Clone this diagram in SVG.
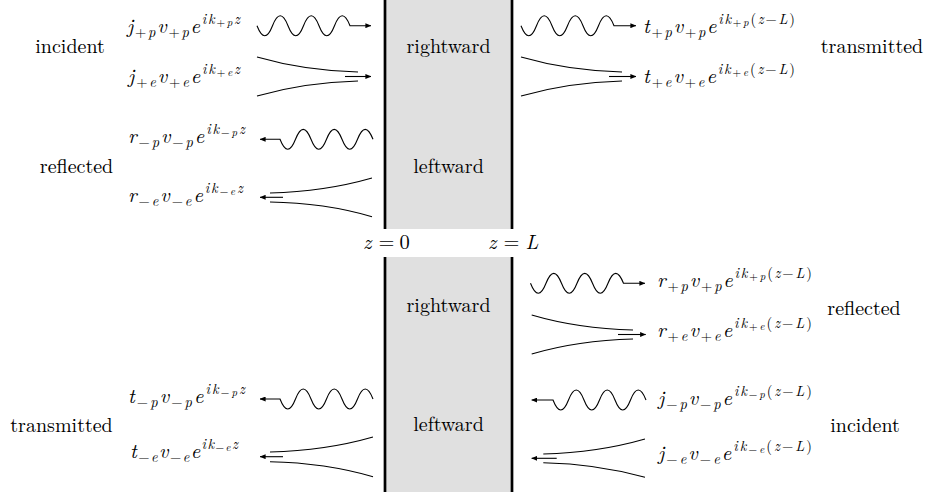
<svg xmlns="http://www.w3.org/2000/svg" width="928" height="492" viewBox="0 0 928 492" font-family="Latin Modern Roman, Liberation Serif, serif">
<defs>
<style>
text{font-size:20px;fill:#000}
.m{font-style:italic;font-size:20.5px}
.s{font-size:14.5px}
.ss{font-size:11px}
.u{font-style:normal}
.panel{fill:#e0e0e0;stroke:none}
.wall{stroke:#000;stroke-width:2.7;fill:none}
.c{fill:none;stroke:#000;stroke-width:1.1}
.a{fill:none;stroke:#000;stroke-width:1.1;marker-end:url(#ah)}
</style>
<marker id="ah" viewBox="0 0 6 5" refX="5.6" refY="2.5" markerWidth="6" markerHeight="5" markerUnits="userSpaceOnUse" orient="auto"><path d="M0,0 L6,2.5 L0,5 Z" fill="#000"/></marker>
</defs>
<rect width="928" height="492" fill="#fff"/>

<g id="slab-top">
<rect class="panel" x="385" y="-2" width="127" height="231"/>
<line class="wall" x1="385" y1="-2" x2="385" y2="229"/>
<line class="wall" x1="512" y1="-2" x2="512" y2="229"/>
<text x="448.5" y="53" text-anchor="middle">rightward</text>
<text x="448.5" y="173" text-anchor="middle">leftward</text>
</g>
<g id="slab-bottom">
<rect class="panel" x="385" y="257" width="127" height="237"/>
<line class="wall" x1="385" y1="257" x2="385" y2="494"/>
<line class="wall" x1="512" y1="257" x2="512" y2="494"/>
<text x="448.5" y="312" text-anchor="middle">rightward</text>
<text x="448.5" y="431" text-anchor="middle">leftward</text>
</g>
<g id="z-labels">
<text class="m" x="363" y="249">z<tspan class="u" x="378.5">=</tspan><tspan class="u" x="399.5">0</tspan></text>
<text class="m" x="488" y="249">z<tspan class="u" x="503.5">=</tspan><tspan x="525.5">L</tspan></text>
</g>

<g id="labels">
<text x="70" y="53" text-anchor="middle">incident</text>
<text x="76.5" y="173" text-anchor="middle">reflected</text>
<text x="872" y="53" text-anchor="middle">transmitted</text>
<text x="864" y="315" text-anchor="middle">reflected</text>
<text x="865" y="431.7" text-anchor="middle">incident</text>
<text x="61.5" y="431.7" text-anchor="middle">transmitted</text>
</g>

<g id="formula-jp"><text class="m" x="127" y="33.3" textLength="113" lengthAdjust="spacing">j<tspan class="s" baseline-shift="-4"><tspan class="u">+</tspan>p</tspan>v<tspan class="s" baseline-shift="-4"><tspan class="u">+</tspan>p</tspan>e<tspan class="s" baseline-shift="9.5">ik</tspan><tspan class="ss" baseline-shift="7"><tspan class="u">+</tspan>p</tspan><tspan class="s" baseline-shift="9.5">z</tspan></text></g>
<g id="formula-je"><text class="m" x="128" y="83.3" textLength="112" lengthAdjust="spacing">j<tspan class="s" baseline-shift="-4"><tspan class="u">+</tspan>e</tspan>v<tspan class="s" baseline-shift="-4"><tspan class="u">+</tspan>e</tspan>e<tspan class="s" baseline-shift="9.5">ik</tspan><tspan class="ss" baseline-shift="7"><tspan class="u">+</tspan>e</tspan><tspan class="s" baseline-shift="9.5">z</tspan></text></g>
<g id="formula-rmp"><text class="m" x="128" y="143.3" textLength="117" lengthAdjust="spacing">r<tspan class="s" baseline-shift="-4"><tspan class="u">−</tspan>p</tspan>v<tspan class="s" baseline-shift="-4"><tspan class="u">−</tspan>p</tspan>e<tspan class="s" baseline-shift="9.5">ik</tspan><tspan class="ss" baseline-shift="7"><tspan class="u">−</tspan>p</tspan><tspan class="s" baseline-shift="9.5">z</tspan></text></g>
<g id="formula-rme"><text class="m" x="128" y="201.7" textLength="115" lengthAdjust="spacing">r<tspan class="s" baseline-shift="-4"><tspan class="u">−</tspan>e</tspan>v<tspan class="s" baseline-shift="-4"><tspan class="u">−</tspan>e</tspan>e<tspan class="s" baseline-shift="9.5">ik</tspan><tspan class="ss" baseline-shift="7"><tspan class="u">−</tspan>e</tspan><tspan class="s" baseline-shift="9.5">z</tspan></text></g>
<g id="formula-tpp"><text class="m" x="643" y="33.3" textLength="152" lengthAdjust="spacing">t<tspan class="s" baseline-shift="-4"><tspan class="u">+</tspan>p</tspan>v<tspan class="s" baseline-shift="-4"><tspan class="u">+</tspan>p</tspan>e<tspan class="s" baseline-shift="9.5">ik</tspan><tspan class="ss" baseline-shift="7"><tspan class="u">+</tspan>p</tspan><tspan class="s" baseline-shift="9.5"><tspan class="u">(</tspan>z<tspan class="u">−</tspan>L<tspan class="u">)</tspan></tspan></text></g>
<g id="formula-tpe"><text class="m" x="643" y="83.3" textLength="152" lengthAdjust="spacing">t<tspan class="s" baseline-shift="-4"><tspan class="u">+</tspan>e</tspan>v<tspan class="s" baseline-shift="-4"><tspan class="u">+</tspan>e</tspan>e<tspan class="s" baseline-shift="9.5">ik</tspan><tspan class="ss" baseline-shift="7"><tspan class="u">+</tspan>e</tspan><tspan class="s" baseline-shift="9.5"><tspan class="u">(</tspan>z<tspan class="u">−</tspan>L<tspan class="u">)</tspan></tspan></text></g>
<g id="formula-rpp"><text class="m" x="657" y="287.3" textLength="155" lengthAdjust="spacing">r<tspan class="s" baseline-shift="-4"><tspan class="u">+</tspan>p</tspan>v<tspan class="s" baseline-shift="-4"><tspan class="u">+</tspan>p</tspan>e<tspan class="s" baseline-shift="9.5">ik</tspan><tspan class="ss" baseline-shift="7"><tspan class="u">+</tspan>p</tspan><tspan class="s" baseline-shift="9.5"><tspan class="u">(</tspan>z<tspan class="u">−</tspan>L<tspan class="u">)</tspan></tspan></text></g>
<g id="formula-rpe"><text class="m" x="657" y="337" textLength="155" lengthAdjust="spacing">r<tspan class="s" baseline-shift="-4"><tspan class="u">+</tspan>e</tspan>v<tspan class="s" baseline-shift="-4"><tspan class="u">+</tspan>e</tspan>e<tspan class="s" baseline-shift="9.5">ik</tspan><tspan class="ss" baseline-shift="7"><tspan class="u">+</tspan>e</tspan><tspan class="s" baseline-shift="9.5"><tspan class="u">(</tspan>z<tspan class="u">−</tspan>L<tspan class="u">)</tspan></tspan></text></g>
<g id="formula-jmp"><text class="m" x="658" y="405" textLength="154" lengthAdjust="spacing">j<tspan class="s" baseline-shift="-4"><tspan class="u">−</tspan>p</tspan>v<tspan class="s" baseline-shift="-4"><tspan class="u">−</tspan>p</tspan>e<tspan class="s" baseline-shift="9.5">ik</tspan><tspan class="ss" baseline-shift="7"><tspan class="u">−</tspan>p</tspan><tspan class="s" baseline-shift="9.5"><tspan class="u">(</tspan>z<tspan class="u">−</tspan>L<tspan class="u">)</tspan></tspan></text></g>
<g id="formula-jme"><text class="m" x="658" y="460" textLength="154" lengthAdjust="spacing">j<tspan class="s" baseline-shift="-4"><tspan class="u">−</tspan>e</tspan>v<tspan class="s" baseline-shift="-4"><tspan class="u">−</tspan>e</tspan>e<tspan class="s" baseline-shift="9.5">ik</tspan><tspan class="ss" baseline-shift="7"><tspan class="u">−</tspan>e</tspan><tspan class="s" baseline-shift="9.5"><tspan class="u">(</tspan>z<tspan class="u">−</tspan>L<tspan class="u">)</tspan></tspan></text></g>
<g id="formula-tmp"><text class="m" x="128" y="403.3" textLength="117" lengthAdjust="spacing">t<tspan class="s" baseline-shift="-4"><tspan class="u">−</tspan>p</tspan>v<tspan class="s" baseline-shift="-4"><tspan class="u">−</tspan>p</tspan>e<tspan class="s" baseline-shift="9.5">ik</tspan><tspan class="ss" baseline-shift="7"><tspan class="u">−</tspan>p</tspan><tspan class="s" baseline-shift="9.5">z</tspan></text></g>
<g id="formula-tme"><text class="m" x="130" y="458" textLength="108" lengthAdjust="spacing">t<tspan class="s" baseline-shift="-4"><tspan class="u">−</tspan>e</tspan>v<tspan class="s" baseline-shift="-4"><tspan class="u">−</tspan>e</tspan>e<tspan class="s" baseline-shift="9.5">ik</tspan><tspan class="ss" baseline-shift="7"><tspan class="u">−</tspan>e</tspan><tspan class="s" baseline-shift="9.5">z</tspan></text></g>

<g id="connectors">
<path class="a" d="M257 25.7 c5.2 13.3 10.3 13.3 15.5 0 s10.3 -13.3 15.5 0 s10.3 13.3 15.5 0 s10.3 -13.3 15.5 0 s10.3 13.3 15.5 0 s10.3 -13.3 15.5 0 L371 25.7"/>
<path class="c" d="M257 57 C290 66.5 320 71 358 72"/>
<path class="c" d="M257 96 C290 86.5 320 82 358 81"/>
<path class="a" d="M345 76.5 L371 76.5"/>
<path class="a" d="M373 139.3 c-5.2 -13.3 -10.3 -13.3 -15.5 0 s-10.3 13.3 -15.5 0 s-10.3 -13.3 -15.5 0 s-10.3 13.3 -15.5 0 s-10.3 -13.3 -15.5 0 s-10.3 13.3 -15.5 0 L260 139.3"/>
<path class="c" d="M372 178 C339 187.5 309 192 270 193"/>
<path class="c" d="M372 216.7 C339 207 309 202.5 270 202"/>
<path class="a" d="M283 197.3 L260 197.3"/>
<path class="a" d="M521 25.7 c5.2 13.3 10.3 13.3 15.5 0 s10.3 -13.3 15.5 0 s10.3 13.3 15.5 0 s10.3 -13.3 15.5 0 s10.3 13.3 15.5 0 s10.3 -13.3 15.5 0 L636 25.7"/>
<path class="c" d="M521 57 C554 66.5 584 71 622 72"/>
<path class="c" d="M521 96 C554 86.5 584 82 622 81"/>
<path class="a" d="M609 76.5 L636 76.5"/>
<path class="a" d="M530.5 283.3 c5.2 13.3 10.3 13.3 15.5 0 s10.3 -13.3 15.5 0 s10.3 13.3 15.5 0 s10.3 -13.3 15.5 0 s10.3 13.3 15.5 0 s10.3 -13.3 15.5 0 L645 283.3"/>
<path class="c" d="M531.7 315 C564 324.5 594 329 633 330"/>
<path class="c" d="M531.7 354 C564 344.5 594 340 633 339"/>
<path class="a" d="M618 334.5 L645.7 334.5"/>
<path class="a" d="M646 400 c-5.2 -13.3 -10.3 -13.3 -15.5 0 s-10.3 13.3 -15.5 0 s-10.3 -13.3 -15.5 0 s-10.3 13.3 -15.5 0 s-10.3 -13.3 -15.5 0 s-10.3 13.3 -15.5 0 L531.7 400"/>
<path class="c" d="M645 439 C612 448.5 582 453 543.3 454"/>
<path class="c" d="M645 477.3 C612 468 582 463.5 543.3 462.7"/>
<path class="a" d="M556.7 458.3 L531.7 458.3"/>
<path class="a" d="M373 399 c-5.2 -13.3 -10.3 -13.3 -15.5 0 s-10.3 13.3 -15.5 0 s-10.3 -13.3 -15.5 0 s-10.3 13.3 -15.5 0 s-10.3 -13.3 -15.5 0 s-10.3 13.3 -15.5 0 L260 399"/>
<path class="c" d="M373 437 C340 446.5 310 451 270 452"/>
<path class="c" d="M373 476.7 C340 467 310 462.5 270 461.7"/>
<path class="a" d="M283 456.7 L260 456.7"/>
</g>
</svg>
